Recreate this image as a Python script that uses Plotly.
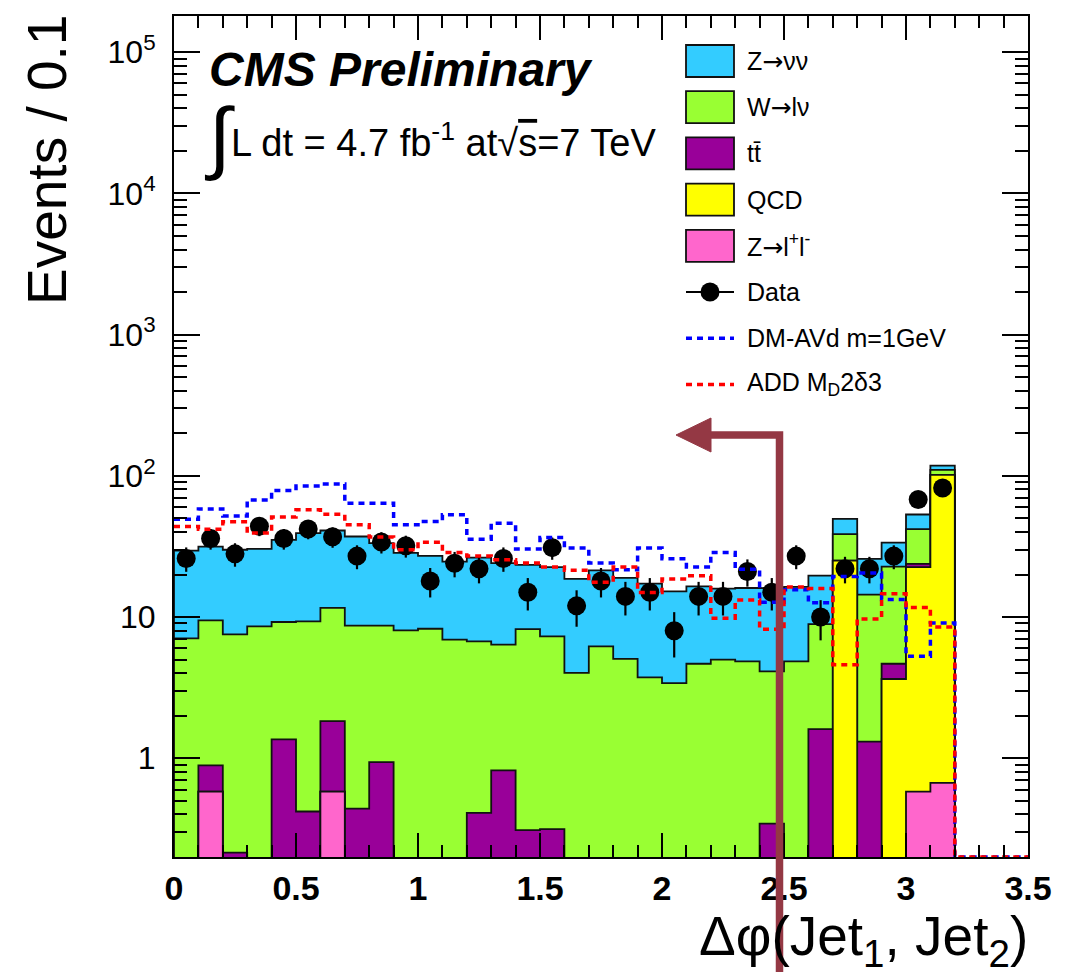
import numpy as np
import plotly.graph_objects as go

# ---------------- data ----------------
bin_width = 0.1
n_stack_bins = 32          # 0 .. 3.2
n_all_bins = 35            # 0 .. 3.5

z_nunu = [22.5, 22.1, 22.4, 21.8, 26.0, 30.0, 29.4, 28.5, 24.7, 20.4, 18.8, 17.8,
          19.6, 17.7, 15.2, 15.3, 14.6, 15.2, 13.9, 13.5, 11.8, 11.8, 10.9, 11.2,
          11.9, 11.5, 10.7, 11.0, 11.4, 10.9, 11.3, 8.0]
w_lnu = [7.06, 8.57, 7.32, 8.58, 7.86, 8.89, 9.77, 8.24, 7.74, 8.04, 8.26, 6.91,
         6.31, 5.55, 7.91, 6.98, 4.02, 6.19, 5.05, 3.74, 3.41, 4.67, 4.99, 4.85,
         3.78, 4.85, 7.31, 13.5, 13.1, 18.1, 18.1, 8.5]
ttbar = [0, 0.31, 0.215, 0, 1.36, 0.42, 1.25, 0.44, 0.94, 0, 0, 0,
         0.41, 0.82, 0.31, 0.315, 0, 0, 0, 0, 0, 0, 0, 0,
         0.345, 0, 1.61, 0, 1.31, 1.03, 1.2, 0]
qcd = [0, 0, 0, 0, 0, 0, 0, 0, 0, 0, 0, 0,
       0, 0, 0, 0, 0, 0, 0, 0, 0, 0, 0, 0,
       0, 0, 0, 25.1, 0, 3.64, 22.0, 100.8]
z_ll = [0, 0.58, 0, 0, 0, 0, 0.58, 0, 0, 0, 0, 0,
        0, 0, 0, 0, 0, 0, 0, 0, 0, 0, 0, 0,
        0, 0, 0, 0, 0, 0, 0.58, 0.67]
data_counts = [26, 36, 28, 44, 36, 42, 37, 27, 34, 32, 18, 24,
               22, 26, 15, 31, 12, 18, 14, 15, 8, 14, 14, 21,
               15, 27, 10, 22, 22, 27, 68, 82]
dm_avd = [49.3, 58.3, 52.0, 67.5, 78.6, 84.8, 87.6, 64.0, 64.0, 45.0, 47.4, 52.9,
          35.6, 46.2, 30.3, 36.6, 30.8, 24.1, 21.6, 30.8, 25.9, 22.6, 28.6, 21.8,
          12.7, 15.6, 12.6, 19.4, 20.5, 13.3, 5.27, 9.07, 0, 0, 0]
add_md2 = [43.7, 41.9, 47.2, 39.3, 51.0, 57.4, 53.5, 45.0, 36.8, 29.9, 33.9, 28.6,
           27.1, 25.4, 24.1, 22.6, 21.4, 17.6, 22.6, 14.9, 18.6, 19.6, 9.8, 13.2,
           8.2, 16.3, 15.9, 4.6, 9.7, 14.6, 11.7, 8.5, 0, 0, 0]

x_ticks = [0, 0.5, 1, 1.5, 2, 2.5, 3, 3.5]
x_tick_labels = ["0", "0.5", "1", "1.5", "2", "2.5", "3", "3.5"]
y_ticks = [1, 10, 100, 1e3, 1e4, 1e5]
y_tick_labels = ["1", "10", "10<sup>2</sup>", "10<sup>3</sup>", "10<sup>4</sup>", "10<sup>5</sup>"]
y_min, y_max = 0.2, 1.8e5

# ---------------- styling ----------------
FONT = "Liberation Sans, Arial, Helvetica, sans-serif"
ARROW_FONT = "DejaVu Sans"
C_ZNN, C_WLN, C_TT, C_QCD, C_ZLL = "#33ccff", "#99ff33", "#990099", "#ffff00", "#ff66cc"
C_ARROW = "#943844"
W, H = 1067, 977
L, R, T, B = 174, 39, 16, 120
PX0, PX1, PY0, PY1 = L, W - R, T, H - B


def px(xp):
    return (xp - PX0) / (PX1 - PX0)


def py(yp):
    return (PY1 - yp) / (PY1 - PY0)


edges = np.round(np.arange(n_all_bins + 1) * bin_width, 3)
centers = (edges[:-1] + edges[1:]) / 2
tiny = 1e-3

c1 = np.array(z_ll, float)
c2 = c1 + np.array(qcd, float)
c3 = c2 + np.array(ttbar, float)
c4 = c3 + np.array(w_lnu, float)
c5 = c4 + np.array(z_nunu, float)


def step_polygon(vals):
    xs, ys = [edges[0]], [tiny]
    for i, v in enumerate(vals):
        yv = v if v > 0 else tiny
        xs += [edges[i], edges[i + 1]]
        ys += [yv, yv]
    xs.append(edges[len(vals)])
    ys.append(tiny)
    return xs, ys


fig = go.Figure()
for cum, col in [(c5, C_ZNN), (c4, C_WLN), (c3, C_TT), (c2, C_QCD), (c1, C_ZLL)]:
    xs, ys = step_polygon(cum)
    fig.add_trace(go.Scatter(x=xs, y=ys, mode="lines", fill="toself", fillcolor=col,
                             line=dict(color="#111111", width=1.8), hoverinfo="skip",
                             showlegend=False))

dc = np.array(data_counts, float)
fig.add_trace(go.Scatter(x=centers[:n_stack_bins], y=dc, mode="markers",
                         marker=dict(color="black", size=19),
                         error_y=dict(type="data", array=np.sqrt(dc), color="black",
                                      thickness=2.2, width=0),
                         showlegend=False))


def step_line(vals):
    v = [max(a, y_min) for a in vals]
    return list(edges), v + [v[-1]]


for vals, col in [(dm_avd, "#0000ff"), (add_md2, "#ff0000")]:
    xs, ys = step_line(vals)
    fig.add_trace(go.Scatter(x=xs, y=ys, mode="lines", line_shape="hv",
                             line=dict(color=col, width=3.5, dash="6px,5px"),
                             showlegend=False, hoverinfo="skip"))

# ---------------- legend (manual, ROOT style) ----------------
ARW = f"<span style='font-family:{ARROW_FONT}'>→</span>"
shapes = []
annotations = []
leg_x0, leg_x1, leg_tx = 686, 734, 745
rows = [61, 107.2, 153.4, 199.6, 245.8, 292, 338.2, 384.4]
box_entries = [(C_ZNN, f"Z{ARW}νν"), (C_WLN, f"W{ARW}lν"), (C_TT, "tt\u0304"), (C_QCD, "QCD"),
               (C_ZLL, f"Z{ARW}l<sup>+</sup>l<sup>-</sup>")]
LEG_SIZE = 25
for (col, label), yc in zip(box_entries, rows[:5]):
    shapes.append(dict(type="rect", xref="paper", yref="paper",
                       x0=px(leg_x0), x1=px(leg_x1), y0=py(yc + 16), y1=py(yc - 16),
                       fillcolor=col, line=dict(color="#111111", width=1.8)))
    annotations.append(dict(text=label, x=px(leg_tx), y=py(yc), xref="paper", yref="paper",
                            xanchor="left", yanchor="middle", showarrow=False,
                            font=dict(family=FONT, size=LEG_SIZE, color="black")))
# data entry
yc = rows[5]
shapes.append(dict(type="line", xref="paper", yref="paper", x0=px(leg_x0), x1=px(leg_x1),
                   y0=py(yc), y1=py(yc), line=dict(color="black", width=2)))
shapes.append(dict(type="circle", xref="paper", yref="paper", x0=px(710 - 9.5), x1=px(710 + 9.5),
                   y0=py(yc + 9.5), y1=py(yc - 9.5), fillcolor="black", line=dict(width=0)))
annotations.append(dict(text="Data", x=px(leg_tx), y=py(yc), xref="paper", yref="paper",
                        xanchor="left", yanchor="middle", showarrow=False,
                        font=dict(family=FONT, size=LEG_SIZE, color="black")))
for yc, col, label in [(rows[6], "#0000ff", "DM-AVd m=1GeV"),
                       (rows[7], "#ff0000", "ADD M<sub>D</sub>2δ3")]:
    shapes.append(dict(type="line", xref="paper", yref="paper", x0=px(leg_x0), x1=px(leg_x1),
                       y0=py(yc), y1=py(yc), line=dict(color=col, width=3.5, dash="6px,5px")))
    annotations.append(dict(text=label, x=px(leg_tx), y=py(yc), xref="paper", yref="paper",
                            xanchor="left", yanchor="middle", showarrow=False,
                            font=dict(family=FONT, size=LEG_SIZE, color="black")))

# ---------------- arrow ----------------
shapes.append(dict(type="path", xref="paper", yref="paper",
                   path=f"M {px(779.5)},{py(972)} L {px(779.5)},{py(435)} L {px(708)},{py(435)}",
                   line=dict(color=C_ARROW, width=7.5)))
shapes.append(dict(type="path", xref="paper", yref="paper",
                   path=f"M {px(676)},{py(435)} L {px(711)},{py(418)} L {px(711)},{py(452)} Z",
                   fillcolor=C_ARROW, line=dict(color=C_ARROW, width=1)))

# ---------------- texts ----------------
annotations += [
    dict(text="<b><i>CMS Preliminary</i></b>", x=px(207), y=py(69), xref="paper", yref="paper",
         xanchor="left", yanchor="middle", showarrow=False,
         font=dict(family=FONT, size=48, color="black")),
    dict(text="∫", x=px(202), y=py(136), xref="paper", yref="paper",
         xanchor="left", yanchor="middle", showarrow=False,
         font=dict(family=FONT, size=80, color="black")),
    dict(text="L dt = 4.7 fb<sup>-1</sup> at√<span style='text-decoration:overline'>s</span>=7 TeV",
         x=px(229), y=py(140), xref="paper", yref="paper",
         xanchor="left", yanchor="middle", showarrow=False,
         font=dict(family=FONT, size=38, color="black")),
    dict(text="Events / 0.1", x=px(47), y=py(13), xref="paper", yref="paper",
         xanchor="center", yanchor="top", textangle=-90, showarrow=False,
         font=dict(family=FONT, size=55, color="black")),
    dict(text="Δφ(Jet<sub>1</sub>, Jet<sub>2</sub>)", x=px(1030), y=py(940), xref="paper", yref="paper",
         xanchor="right", yanchor="middle", showarrow=False,
         font=dict(family=FONT, size=55, color="black")),
]

fig.update_layout(
    width=W, height=H, margin=dict(l=L, r=R, t=T, b=B, pad=0),
    paper_bgcolor="white", plot_bgcolor="white",
    showlegend=False, shapes=shapes, annotations=annotations,
    font=dict(family=FONT, color="black"),
)
fig.update_xaxes(range=[0, 3.5], tickmode="array", tickvals=x_ticks, ticktext=x_tick_labels,
                 ticks="inside", ticklen=24, tickwidth=1.6, tickcolor="black",
                 minor=dict(dtick=0.1, tick0=0, ticks="inside", ticklen=12, tickwidth=1.6, tickcolor="black"),
                 showline=True, linewidth=2, linecolor="black", mirror="ticks",
                 showgrid=False, zeroline=False,
                 tickfont=dict(family=FONT, size=34, color="black", weight="bold"),
                 ticklabelstandoff=0)
minor_y = [k * 10.0 ** d for d in range(-1, 6) for k in range(2, 10)]
fig.update_yaxes(type="log", range=[np.log10(y_min), np.log10(y_max)], tickmode="array",
                 tickvals=y_ticks, ticktext=y_tick_labels,
                 ticks="inside", ticklen=26, tickwidth=1.6, tickcolor="black",
                 minor=dict(tickmode="array", tickvals=minor_y, ticks="inside", ticklen=13,
                            tickwidth=1.6, tickcolor="black"),
                 showline=True, linewidth=2, linecolor="black", mirror="ticks",
                 showgrid=False, zeroline=False,
                 tickfont=dict(family=FONT, size=32, color="black"),
                 ticklabelstandoff=10)

fig.write_html("out.html", config={"displayModeBar": False},
               post_script="document.body.style.margin='0';document.body.style.overflow='hidden';")
